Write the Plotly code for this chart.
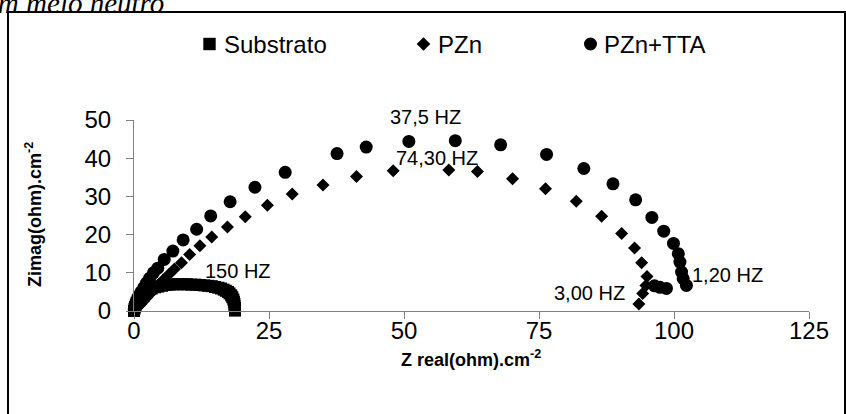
import plotly.graph_objects as go

# ---------------- data ----------------
sub_x = [0.0, 0.1, 0.2, 0.35, 0.5, 0.7, 0.9, 1.2, 1.5, 1.9, 2.3, 2.8, 3.3, 3.9, 4.5, 5.2, 5.9, 6.6,
         7.4, 8.2, 9.0, 9.8, 10.6, 11.4, 12.2, 13.0, 13.7, 14.4, 15.0, 15.6, 16.1, 16.6, 17.0, 17.4,
         17.7, 18.0, 18.2, 18.4, 18.5, 18.6, 18.6, 18.7, 18.7, 18.7]
sub_y = [0.0, 0.6, 1.1, 1.7, 2.2, 2.8, 3.3, 3.8, 4.3, 4.8, 5.2, 5.6, 5.9, 6.2, 6.4, 6.6, 6.8, 6.9,
         7.0, 7.0, 7.0, 7.0, 6.9, 6.9, 6.8, 6.7, 6.6, 6.5, 6.3, 6.1, 5.9, 5.6, 5.3, 5.0,
         4.6, 4.1, 3.6, 3.0, 2.4, 1.8, 1.3, 0.8, 0.4, 0.1]

pzn_x = [0.2, 0.5, 0.9, 1.3, 1.8, 2.4, 3.0, 3.7, 4.5, 5.4, 6.4, 7.5, 8.8, 10.3, 12.2, 14.4, 17.3,
         20.6, 24.7, 29.3, 35.0, 41.2, 48.0, 58.3, 63.6, 70.1, 76.2, 81.9, 86.6, 90.3, 92.7, 94.0,
         95.0, 94.8, 94.2, 93.5]
pzn_y = [0.3, 0.7, 1.3, 1.9, 2.7, 3.6, 4.5, 5.6, 6.8, 8.1, 9.5, 11.0, 12.6, 14.8, 17.1, 19.4, 22.0,
         24.7, 27.7, 30.6, 33.0, 35.2, 36.7, 36.9, 36.5, 34.6, 32.0, 28.7, 24.8, 20.3, 16.5, 12.6,
         9.0, 6.7, 4.6, 1.8]

tta_x = [0.05, 0.15, 0.35, 0.6, 0.9, 1.3, 1.8, 2.3, 2.9, 3.6, 4.4, 5.6, 7.2, 9.1, 11.6, 14.2, 17.8,
         22.4, 28.0, 37.6, 43.0, 50.9, 59.5, 67.9, 76.4, 83.3, 88.7, 92.9, 95.9, 98.1, 99.9, 100.8,
         101.1, 101.4, 101.7, 102.3, 98.6, 97.4, 96.4]
tta_y = [0.4, 1.1, 2.0, 2.9, 3.9, 5.0, 6.1, 7.3, 8.6, 10.0, 11.2, 13.5, 15.7, 18.6, 21.4, 24.9, 28.6,
         32.4, 36.3, 41.2, 42.9, 44.4, 44.6, 43.5, 41.0, 37.3, 33.3, 29.1, 24.5, 20.9, 17.7, 15.0,
         12.8, 10.2, 8.5, 6.7, 5.9, 6.2, 6.6]

freq_labels = ["37,5 HZ", "74,30 HZ", "3,00 HZ", "1,20 HZ", "150 HZ"]
freq_x = [53.9, 56.2, 84.3, 109.9, 19.3]
freq_y = [50.7, 40.0, 4.8, 9.4, 10.4]

series_names = ["Substrato", "PZn", "PZn+TTA"]
x_ticks = [0, 25, 50, 75, 100, 125]
y_ticks = [0, 10, 20, 30, 40, 50]
x_range = [0, 125]
y_range = [0, 50]

# ---------------- layout geometry (pixels) ----------------
W, H = 846, 414
ML, MR, MT, MB = 134, 37, 120, 103
PW, PH = W - ML - MR, H - MT - MB
px_per_y = PH / (y_range[1] - y_range[0])

def u(px):
    return (px - ML) / PW

def v(py):
    return (H - MB - py) / PH

FONT = "Liberation Sans, Arial, sans-serif"

fig = go.Figure()
common = dict(mode="markers", cliponaxis=False, hoverinfo="skip", showlegend=False)
fig.add_trace(go.Scatter(x=sub_x, y=sub_y, name=series_names[0],
                         marker=dict(symbol="square", size=12, color="black", line=dict(width=0)), **common))
fig.add_trace(go.Scatter(x=pzn_x, y=pzn_y, name=series_names[1],
                         marker=dict(symbol="diamond", size=10, color="black", line=dict(width=0)), **common))
fig.add_trace(go.Scatter(x=tta_x, y=tta_y, name=series_names[2],
                         marker=dict(symbol="circle", size=13, color="black", line=dict(width=0)), **common))

# ---------------- legend (shapes + text, pixel positioned) ----------------
leg_y = 44
leg_mx = [209.5, 423.5, 590.5]
leg_tx = [222, 436, 602]
shapes = []
s = 6.2
shapes.append(dict(type="rect", xref="paper", yref="paper",
                   x0=u(leg_mx[0] - s), x1=u(leg_mx[0] + s), y0=v(leg_y + s), y1=v(leg_y - s),
                   fillcolor="black", line=dict(width=0)))
d = 6.8
dx, dy = leg_mx[1], leg_y
shapes.append(dict(type="path", xref="paper", yref="paper",
                   path=f"M {u(dx - d)} {v(dy)} L {u(dx)} {v(dy - d)} L {u(dx + d)} {v(dy)} L {u(dx)} {v(dy + d)} Z",
                   fillcolor="black", line=dict(width=0)))
r = 6.5
shapes.append(dict(type="circle", xref="paper", yref="paper",
                   x0=u(leg_mx[2] - r), x1=u(leg_mx[2] + r), y0=v(leg_y + r), y1=v(leg_y - r),
                   fillcolor="black", line=dict(width=0)))
# outer frame
shapes.append(dict(type="rect", xref="paper", yref="paper",
                   x0=u(8), x1=u(845), y0=v(430), y1=v(12),
                   line=dict(color="black", width=2), fillcolor="rgba(0,0,0,0)", layer="above"))

annotations = []
for name, tx in zip(series_names, leg_tx):
    annotations.append(dict(x=u(tx), y=v(leg_y), xref="paper", yref="paper", text=name, showarrow=False,
                            xanchor="left", yanchor="middle",
                            font=dict(family=FONT, size=24, color="black")))
for t, x, y in zip(freq_labels, freq_x, freq_y):
    yy = min(y, y_range[1])
    annotations.append(dict(x=x, y=yy, yshift=(y - yy) * px_per_y, xref="x", yref="y", text=t,
                            showarrow=False, xanchor="center", yanchor="middle",
                            font=dict(family=FONT, size=20, color="black")))
# caption clipped at the top of the page
annotations.append(dict(x=u(166), y=v(21), xref="paper", yref="paper", text="<i>em meio neutro</i>",
                        showarrow=False, xanchor="right", yanchor="bottom",
                        font=dict(family="Liberation Serif, Times New Roman, serif", size=29, color="black")))
# axis titles
annotations.append(dict(x=u(471), y=v(358), xref="paper", yref="paper",
                        text="<b>Z real(ohm).cm<sup>-2</sup></b>", showarrow=False,
                        xanchor="center", yanchor="middle",
                        font=dict(family=FONT, size=18, color="black")))
annotations.append(dict(x=u(33), y=v(214), xref="paper", yref="paper",
                        text="<b>Zimag(ohm).cm<sup>-2</sup></b>", showarrow=False, textangle=-90,
                        xanchor="center", yanchor="middle",
                        font=dict(family=FONT, size=18, color="black")))

axis_common = dict(showgrid=False, zeroline=False, showline=True, linecolor="#808080", linewidth=1,
                   ticks="outside", ticklen=7, tickwidth=1, tickcolor="#808080", automargin=False,
                   tickfont=dict(family=FONT, size=24, color="black"))

fig.update_layout(
    width=W, height=H, autosize=False,
    margin=dict(l=ML, r=MR, t=MT, b=MB, pad=0, autoexpand=False),
    paper_bgcolor="white", plot_bgcolor="white",
    xaxis=dict(range=x_range, tickvals=x_ticks, ticklabelstandoff=-9, **axis_common),
    yaxis=dict(range=y_range, tickvals=y_ticks, ticklabelstandoff=10, **axis_common),
    annotations=annotations, shapes=shapes, showlegend=False,
)

fig.write_html("out.html")
